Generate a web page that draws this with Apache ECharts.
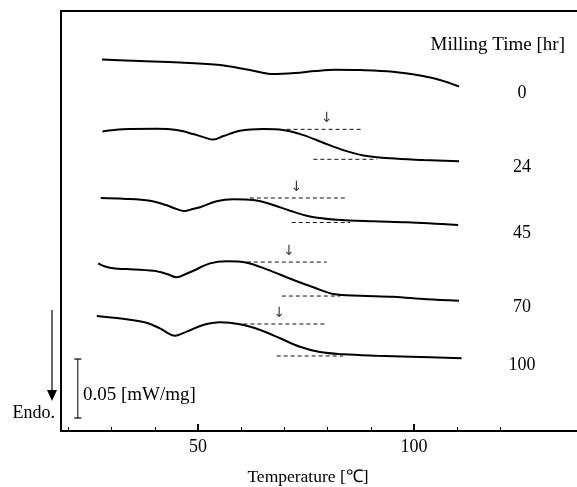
<!DOCTYPE html>
<html><head><meta charset="utf-8">
<script src="https://cdn.jsdelivr.net/npm/echarts@6/dist/echarts.min.js"></script>
<style>html,body{margin:0;padding:0;background:#fff}#c{width:577px;height:487px}</style>
</head><body><div id="c"></div>
<script>
// Milling times [hr]
const millingTimes = ['0', '24', '45', '70', '100'];
// DSC curves: temperature [°C] and offset heat flow [µW/mg] (stacked for display)
const temp0 = [27.8, 36.6, 45.8, 55.1, 62.0, 67.4, 72.5, 77.1, 81.7, 87.5, 95.1, 101.4, 106.0, 110.4];
const heat0 = [314.8, 313.6, 312.3, 310.2, 305.9, 302.5, 303.4, 305.1, 306.2, 305.9, 304.5, 301.3, 297.5, 292.0];
const temp24 = [27.9, 32.6, 40.4, 45.1, 48.9, 51.6, 53.5, 55.9, 59.7, 65.1, 69.7, 74.4, 79.0, 83.6, 88.3, 94.4, 102.2, 110.4];
const heat24 = [253.8, 255.7, 256.1, 255.1, 251.7, 248.7, 247.0, 250.0, 254.5, 255.9, 255.1, 250.8, 244.3, 238.1, 233.6, 231.1, 229.7, 228.6];
const temp45 = [27.5, 32.7, 38.9, 42.8, 44.7, 46.8, 48.8, 50.5, 54.3, 58.2, 62.8, 66.7, 71.3, 75.9, 82.1, 90.6, 98.3, 110.2];
const heat45 = [197.5, 196.9, 195.2, 191.3, 188.6, 186.4, 188.1, 189.6, 194.7, 196.4, 195.8, 192.4, 186.7, 181.9, 179.1, 177.7, 176.9, 174.6];
const temp70 = [26.9, 28.5, 30.8, 33.5, 39.7, 42.8, 45.1, 47.2, 48.9, 52.8, 56.6, 61.3, 65.9, 72.1, 76.7, 81.3, 87.5, 95.2, 102.9, 110.4];
const heat70 = [142.1, 139.4, 137.7, 137.3, 135.8, 133.1, 130.3, 133.1, 135.8, 142.1, 143.8, 142.6, 137.0, 128.0, 121.8, 116.1, 114.7, 113.8, 111.6, 110.4];
const temp100 = [26.6, 33.5, 38.1, 41.2, 44.7, 47.4, 51.2, 55.1, 59.7, 64.4, 69.0, 73.6, 78.2, 83.6, 91.4, 99.1, 111.0];
const heat100 = [97.5, 94.7, 91.8, 87.0, 80.8, 84.2, 89.8, 92.1, 90.4, 85.6, 78.6, 71.4, 66.9, 65.0, 63.8, 63.0, 61.6];

// Dashed baselines (for curves 24, 45, 70, 100)
const upperStartT = [70.5, 62.0, 61.3, 60.5];
const upperEndT   = [87.9, 84.0, 79.8, 79.4];
const upperLevel  = [255.7, 197.5, 143.2, 90.7];
const lowerStartT = [76.7, 71.7, 69.4, 68.2];
const lowerEndT   = [91.4, 85.2, 82.9, 83.6];
const lowerLevel  = [230.3, 176.7, 114.4, 63.6];
// Transition arrows (temperature)
const arrowT = [79.8, 72.8, 71.1, 68.8];

// Scale bar: 0.05 mW/mg = 50 µW/mg
const scaleBarT = 22.2;
const scaleBarFrom = 11;
const scaleBarTo = 61;

// Axis ticks
const minorTicks = [20, 30, 40, 50, 60, 70, 80, 90, 100, 110, 120];
const majorTicks = [50, 100];

const FONT = "'Liberation Serif', 'Times New Roman', serif";
const zip = (a, b) => a.map((v, i) => [v, b[i]]);
const curves = [[temp0, heat0], [temp24, heat24], [temp45, heat45], [temp70, heat70], [temp100, heat100]];

const series = [];
curves.forEach(([t, h], i) => {
  series.push({
    type: 'line', name: millingTimes[i], data: zip(t, h), smooth: 0.35,
    showSymbol: false, symbol: 'none', xAxisIndex: 0,
    lineStyle: { color: '#000', width: 2 }, z: 3
  });
});
for (let i = 0; i < upperStartT.length; i++) {
  series.push({
    type: 'line', data: [[upperStartT[i], upperLevel[i]], [upperEndT[i], upperLevel[i]]],
    showSymbol: false, symbol: 'none',
    lineStyle: { color: '#111', width: 1, type: [4, 3] }, z: 2
  });
  series.push({
    type: 'line', data: [[lowerStartT[i], lowerLevel[i]], [lowerEndT[i], lowerLevel[i]]],
    showSymbol: false, symbol: 'none',
    lineStyle: { color: '#111', width: 1, type: [4, 3] }, z: 2
  });
}
series.push({
  type: 'scatter', symbol: 'circle', symbolSize: 1,
  itemStyle: { color: 'rgba(0,0,0,0)' },
  data: arrowT.map((t, i) => [t, upperLevel[i]]),
  label: { show: true, formatter: '↓', position: 'top', distance: 3, color: '#000',
           fontSize: 14, fontFamily: "'DejaVu Sans', sans-serif" },
  silent: true, z: 4
});
series.push({
  type: 'line', data: [[scaleBarT, scaleBarFrom], [scaleBarT, scaleBarTo]],
  symbol: 'rect', symbolSize: [7, 1.2], showSymbol: true,
  itemStyle: { color: '#000' },
  lineStyle: { color: '#000', width: 1 }, z: 3
});

const chart = echarts.init(document.getElementById('c'), null, { renderer: 'canvas' });
chart.setOption({
  animation: false,
  backgroundColor: '#fff',
  grid: { left: 61, right: 0, top: 11, bottom: 56, containLabel: false, outerBoundsMode: 'none' },
  xAxis: [
    { type: 'value', position: 'bottom', min: 18.3, max: 137.7,
      axisLine: { show: true, lineStyle: { color: '#000', width: 2 } },
      axisTick: { show: true, inside: true, length: 4, customValues: minorTicks, lineStyle: { color: '#000', width: 1 } },
      axisLabel: { show: true, customValues: majorTicks, margin: 7, color: '#000', fontSize: 18, fontFamily: FONT },
      splitLine: { show: false },
      name: 'Temperature [℃]', nameLocation: 'middle', nameGap: 37,
      nameTextStyle: { color: '#000', fontSize: 17.5, fontFamily: FONT, padding: [0, 22, 0, 0] } },
    { type: 'value', position: 'bottom', min: 18.3, max: 137.7,
      axisLine: { show: false },
      axisTick: { show: true, inside: true, length: 7, customValues: majorTicks, lineStyle: { color: '#000', width: 2 } },
      axisLabel: { show: false }, splitLine: { show: false } },
    { type: 'value', position: 'top', min: 18.3, max: 137.7,
      axisLine: { show: true, lineStyle: { color: '#000', width: 2 } },
      axisTick: { show: false }, axisLabel: { show: false }, splitLine: { show: false } }
  ],
  yAxis: { type: 'value', min: 0, max: 356,
    axisLine: { show: true, lineStyle: { color: '#000', width: 2 } },
    axisTick: { show: false }, axisLabel: { show: false }, splitLine: { show: false } },
  series: series,
  graphic: [
    { type: 'text', x: 565, y: 45, style: { text: 'Milling Time [hr]', textAlign: 'right', textVerticalAlign: 'middle', fill: '#000', font: '19px ' + FONT } },
    { type: 'text', x: 522, y: 93, style: { text: millingTimes[0], textAlign: 'center', textVerticalAlign: 'middle', fill: '#000', font: '18px ' + FONT } },
    { type: 'text', x: 522, y: 167, style: { text: millingTimes[1], textAlign: 'center', textVerticalAlign: 'middle', fill: '#000', font: '18px ' + FONT } },
    { type: 'text', x: 522, y: 233, style: { text: millingTimes[2], textAlign: 'center', textVerticalAlign: 'middle', fill: '#000', font: '18px ' + FONT } },
    { type: 'text', x: 522, y: 307, style: { text: millingTimes[3], textAlign: 'center', textVerticalAlign: 'middle', fill: '#000', font: '18px ' + FONT } },
    { type: 'text', x: 522, y: 365, style: { text: millingTimes[4], textAlign: 'center', textVerticalAlign: 'middle', fill: '#000', font: '18px ' + FONT } },
    { type: 'text', x: 83, y: 395, style: { text: '0.05 [mW/mg]', textAlign: 'left', textVerticalAlign: 'middle', fill: '#000', font: '19px ' + FONT } },
    { type: 'line', shape: { x1: 52, y1: 310, x2: 52, y2: 392 }, style: { stroke: '#000', lineWidth: 1.2 } },
    { type: 'polygon', shape: { points: [[47, 390], [57, 390], [52, 401]] }, style: { fill: '#000' } },
    { type: 'text', x: 55, y: 413, style: { text: 'Endo.', textAlign: 'right', textVerticalAlign: 'middle', fill: '#000', font: '18px ' + FONT } }
  ]
});
</script></body></html>
